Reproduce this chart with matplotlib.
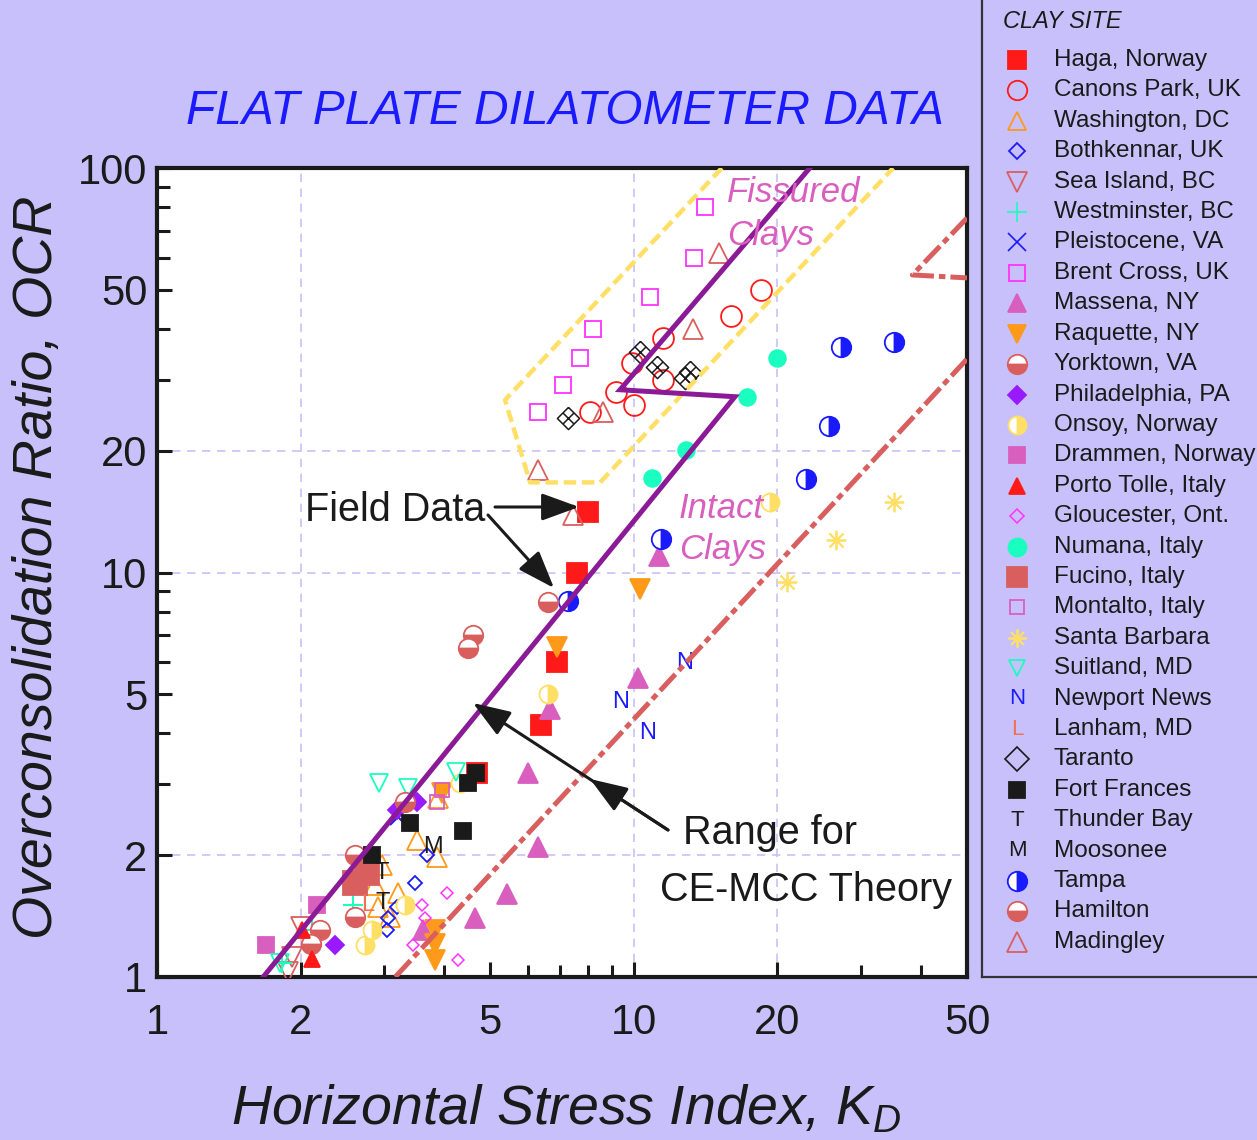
import matplotlib
matplotlib.use('Agg')
import matplotlib.pyplot as plt
from matplotlib.path import Path
from matplotlib.ticker import FixedLocator, NullFormatter

plt.rcParams['font.family'] = 'Liberation Sans'
plt.rcParams['mathtext.fontset'] = 'custom'
plt.rcParams['mathtext.rm'] = 'Liberation Sans'
plt.rcParams['mathtext.it'] = 'Liberation Sans:italic'

# ---- field data: horizontal stress index KD vs OCR ----
haga_kd = [8.0, 7.6, 6.9, 6.4, 4.7]
haga_ocr = [14.1, 10.0, 6.0, 4.2, 3.2]
canons_kd = [18.5, 16.0, 11.5, 9.9, 11.5, 9.2, 10.0, 8.1]
canons_ocr = [50, 43, 38, 33, 30, 28, 26, 25]
washington_kd = [3.51, 3.87, 2.96, 2.87, 3.20, 2.91, 3.08, 3.89]
washington_ocr = [2.18, 1.98, 1.89, 1.69, 1.61, 1.49, 1.41, 2.77]
bothkennar_kd = [3.69, 3.48, 3.19, 3.05, 3.04, 4.36]
bothkennar_ocr = [2.0, 1.71, 1.49, 1.40, 1.31, 3.02]
sea_island_kd = [2.0, 1.92, 1.88]
sea_island_ocr = [1.33, 1.12, 1.03]
westminster_kd = [2.58, 2.11, 1.83]
westminster_ocr = [1.51, 1.31, 1.08]
pleistocene_kd = [3.20]
pleistocene_ocr = [2.49]
brent_kd = [14.1, 13.4, 10.8, 8.2, 7.7, 7.1, 6.3]
brent_ocr = [80, 60, 48, 40, 34, 29, 25]
massena_kd = [11.3, 10.2, 6.67, 6.0, 6.3, 5.42, 4.65, 3.61]
massena_ocr = [11.0, 5.49, 4.6, 3.19, 2.10, 1.60, 1.40, 1.31]
raquette_kd = [10.3, 6.9, 3.96, 3.83, 3.83, 3.83]
raquette_ocr = [9.1, 6.54, 2.85, 1.31, 1.21, 1.10]
yorktown_kd = [2.60, 2.60, 2.20, 2.10]
yorktown_ocr = [2.0, 1.41, 1.31, 1.21]
philadelphia_kd = [3.51, 3.19, 2.36]
philadelphia_ocr = [2.71, 2.59, 1.20]
onsoy_kd = [19.3, 6.6, 4.32, 3.31, 2.83, 2.73]
onsoy_ocr = [14.9, 5.0, 3.02, 1.51, 1.31, 1.20]
drammen_kd = [2.17, 1.69]
drammen_ocr = [1.51, 1.20]
porto_tolle_kd = [2.01, 2.11]
porto_tolle_ocr = [1.31, 1.11]
gloucester_kd = [4.06, 3.60, 3.65, 3.44, 4.28]
gloucester_ocr = [1.61, 1.51, 1.40, 1.20, 1.10]
numana_kd = [20.0, 17.3, 12.9, 10.9]
numana_ocr = [34.0, 27.2, 20.1, 17.1]
fucino_kd = [2.60, 2.76]
fucino_ocr = [1.71, 1.81]
montalto_kd = [3.96, 3.87]
montalto_ocr = [2.90, 2.71]
santa_barbara_kd = [35.2, 26.6, 21.0]
santa_barbara_ocr = [14.9, 12.0, 9.47]
suitland_kd = [2.92, 3.36, 4.24, 1.81]
suitland_ocr = [3.02, 2.93, 3.21, 1.08]
newport_kd = [12.8, 9.36, 10.7]
newport_ocr = [5.97, 4.79, 4.01]
lanham_kd = [2.77]
lanham_ocr = [1.51]
taranto_kd = [7.28, 10.3, 11.2, 12.8, 13.1]
taranto_ocr = [24.1, 35.1, 32.2, 30.3, 31.3]
fort_frances_kd = [4.67, 4.49, 3.39, 4.38, 2.83]
fort_frances_ocr = [3.19, 3.02, 2.40, 2.30, 2.0]
thunder_bay_kd = [2.96, 2.98]
thunder_bay_ocr = [1.81, 1.52]
moosonee_kd = [3.79]
moosonee_ocr = [2.10]
tampa_kd = [35.2, 27.2, 25.7, 23.0, 11.4, 7.28]
tampa_ocr = [37.1, 36.1, 23.0, 17.0, 12.1, 8.5]
hamilton_kd = [6.6, 4.6, 4.5, 3.31]
hamilton_ocr = [8.46, 7.0, 6.5, 2.71]
madingley_kd = [15.1, 13.3, 8.6, 6.3, 7.46]
madingley_ocr = [61.6, 40.0, 24.9, 17.9, 13.9]

# ---- CE-MCC theory range and fissured clay zone ----
upper_kd = [1.67, 16.3, 9.36, 23.4]
upper_ocr = [1.0, 27.2, 28.3, 100]
lower_kd = [3.16, 50]
lower_ocr = [1.0, 33.7]
lower_notch_kd = [50, 38.4, 50]
lower_notch_ocr = [75.2, 54.4, 53.5]
fissured_kd = [15.3, 5.37, 6.06, 8.5, 35.0]
fissured_ocr = [100, 26.7, 16.7, 16.7, 100]

x_ticks = [1, 2, 5, 10, 20, 50]
y_ticks = [1, 2, 5, 10, 20, 50, 100]

W, H = 1257, 1140
BG = '#c8c0fa'
INK = '#1a1a1a'
RED = '#ff1a1a'
ORANGE = '#ff991a'
BLUE = '#1a1aff'
SALMON = '#d95f5f'
AQUA = '#1affbf'
MAGENTA = '#ff33ff'
PINK = '#d95fbf'
VIOLET = '#9a1aff'
YELLOW = '#ffdf66'

# taranto: diamond split into four
tv = [(0, 1), (1, 0), (0, -1), (-1, 0), (0, 1),
      (-0.5, 0.5), (0.5, -0.5), (0.5, 0.5), (-0.5, -0.5)]
tc = [Path.MOVETO, Path.LINETO, Path.LINETO, Path.LINETO, Path.LINETO,
      Path.MOVETO, Path.LINETO, Path.MOVETO, Path.LINETO]
taranto_marker = Path(tv, tc)


def mk(marker, color, ms, filled=True, mew=1.3, **kw):
    d = dict(marker=marker, ms=ms, mec=color, mew=mew, ls='none')
    d['mfc'] = color if filled else 'none'
    d.update(kw)
    return d


def half(color, side, ms):
    return dict(marker='o', ms=ms, mec=color, mfc=color, mfcalt='white',
                fillstyle=side, mew=1.3, ls='none')


sites = [
    ('Haga, Norway', haga_kd, haga_ocr, mk('s', RED, 14), mk('s', RED, 13)),
    ('Canons Park, UK', canons_kd, canons_ocr, mk('o', RED, 15, False), mk('o', RED, 14, False)),
    ('Washington, DC', washington_kd, washington_ocr, mk('^', ORANGE, 14, False), mk('^', ORANGE, 13, False)),
    ('Bothkennar, UK', bothkennar_kd, bothkennar_ocr, mk('D', BLUE, 7, False), mk('D', BLUE, 8, False)),
    ('Sea Island, BC', sea_island_kd, sea_island_ocr, mk('v', SALMON, 15, False), mk('v', SALMON, 14, False)),
    ('Westminster, BC', westminster_kd, westminster_ocr, mk('+', AQUA, 14, mew=1.5), mk('+', AQUA, 14, mew=1.2)),
    ('Pleistocene, VA', pleistocene_kd, pleistocene_ocr, mk('x', BLUE, 12, mew=1.5), mk('x', BLUE, 13, mew=1.2)),
    ('Brent Cross, UK', brent_kd, brent_ocr, mk('s', MAGENTA, 12, False), mk('s', MAGENTA, 12, False)),
    ('Massena, NY', massena_kd, massena_ocr, mk('^', PINK, 14), mk('^', PINK, 13)),
    ('Raquette, NY', raquette_kd, raquette_ocr, mk('v', ORANGE, 14), mk('v', ORANGE, 13)),
    ('Yorktown, VA', yorktown_kd, yorktown_ocr, half(SALMON, 'bottom', 14), half(SALMON, 'bottom', 14)),
    ('Philadelphia, PA', philadelphia_kd, philadelphia_ocr, mk('D', VIOLET, 9), mk('D', VIOLET, 9)),
    ('Onsoy, Norway', onsoy_kd, onsoy_ocr, half(YELLOW, 'right', 13), half(YELLOW, 'right', 13)),
    ('Drammen, Norway', drammen_kd, drammen_ocr, mk('s', PINK, 11), mk('s', PINK, 11)),
    ('Porto Tolle, Italy', porto_tolle_kd, porto_tolle_ocr, mk('^', RED, 11), mk('^', RED, 11)),
    ('Gloucester, Ont.', gloucester_kd, gloucester_ocr, mk('D', MAGENTA, 6, False, mew=1.1), mk('D', MAGENTA, 7, False, mew=1.1)),
    ('Numana, Italy', numana_kd, numana_ocr, mk('o', AQUA, 12), mk('o', AQUA, 13)),
    ('Fucino, Italy', fucino_kd, fucino_ocr, mk('s', SALMON, 17), mk('s', SALMON, 15)),
    ('Montalto, Italy', montalto_kd, montalto_ocr, mk('s', PINK, 10, False), mk('s', PINK, 10, False)),
    ('Santa Barbara', santa_barbara_kd, santa_barbara_ocr, mk((8, 2, 0), YELLOW, 14, mew=1.3), mk((8, 2, 0), YELLOW, 13, mew=1.3)),
    ('Suitland, MD', suitland_kd, suitland_ocr, mk('v', AQUA, 13, False), mk('v', AQUA, 11, False)),
    ('Newport News', newport_kd, newport_ocr, ('N', BLUE), ('N', BLUE)),
    ('Lanham, MD', lanham_kd, lanham_ocr, ('L', '#f07050'), ('L', '#f07050')),
    ('Taranto', taranto_kd, taranto_ocr, mk(taranto_marker, INK, 16, False, mew=1.1), mk('D', INK, 12, False, mew=1.2)),
    ('Fort Frances', fort_frances_kd, fort_frances_ocr, mk('s', INK, 12), mk('s', INK, 11)),
    ('Thunder Bay', thunder_bay_kd, thunder_bay_ocr, ('T', INK), ('T', INK)),
    ('Moosonee', moosonee_kd, moosonee_ocr, ('M', INK), ('M', INK)),
    ('Tampa', tampa_kd, tampa_ocr, half(BLUE, 'right', 14), half(BLUE, 'right', 14)),
    ('Hamilton', hamilton_kd, hamilton_ocr, half(SALMON, 'bottom', 14), half(SALMON, 'bottom', 14)),
    ('Madingley', madingley_kd, madingley_ocr, mk('^', SALMON, 15, False), mk('^', SALMON, 15, False)),
]

fig = plt.figure(figsize=(W / 100, H / 100), dpi=100, facecolor=BG)
ax = fig.add_axes([157 / W, 163 / H, 810 / W, 809 / H], facecolor='white')
ax.set_xscale('log')
ax.set_yscale('log')
ax.set_xlim(1, 50)
ax.set_ylim(1, 100)

for v in [2, 10, 20]:
    ax.axvline(v, color=BG, lw=1.2, ls=(0, (5, 4)), zorder=0)
    ax.axhline(v, color=BG, lw=1.2, ls=(0, (5, 4)), zorder=0)

for name, kd, ocr, style, _ in sites:
    if isinstance(style, tuple):
        letter, col = style
        for x, y in zip(kd, ocr):
            ax.text(x, y, letter, color=col, fontsize=17, ha='center', va='center', zorder=3)
    else:
        ax.plot(kd, ocr, zorder=3, **style)

ax.plot(fissured_kd, fissured_ocr, color=YELLOW, lw=3.2, dashes=(2.8, 1.3), zorder=4)
ax.plot(lower_kd, lower_ocr, color=SALMON, lw=3.6, dashes=(4.5, 1, 1.3, 1), zorder=4)
ax.plot(lower_notch_kd, lower_notch_ocr, color=SALMON, lw=3.6, dashes=(4.5, 1, 1.3, 1), zorder=4)
ax.plot(upper_kd, upper_ocr, color='#8b1a96', lw=3.6, zorder=5, solid_joinstyle='miter')

ax.xaxis.set_major_locator(FixedLocator(x_ticks))
ax.xaxis.set_minor_locator(FixedLocator([3, 4, 6, 7, 8, 9, 30, 40]))
ax.yaxis.set_major_locator(FixedLocator(y_ticks))
ax.yaxis.set_minor_locator(FixedLocator([3, 4, 6, 7, 8, 9, 30, 40, 60, 70, 80, 90]))
ax.set_xticklabels([str(t) for t in x_ticks])
ax.set_yticklabels([str(t) for t in y_ticks])
ax.xaxis.set_minor_formatter(NullFormatter())
ax.yaxis.set_minor_formatter(NullFormatter())
ax.tick_params(which='both', direction='in', width=2.2, color=INK,
               labelsize=30, labelcolor=INK, top=False, right=False)
ax.tick_params(which='major', length=11)
ax.tick_params(which='minor', length=9)
ax.tick_params(axis='x', pad=19)
ax.tick_params(axis='y', pad=7)
for s in ax.spines.values():
    s.set_linewidth(3)
    s.set_color(INK)


def fp(px, py):
    return (px, H - py)


# annotations
fig.text(565 / W, 1 - 112 / H, 'FLAT PLATE DILATOMETER DATA', color=BLUE,
         fontsize=34.5, style='italic', ha='center', va='center')
fig.text(566 / W, 1 - 1110 / H, 'Horizontal Stress Index, $K_D$', color=INK,
         fontsize=40, style='italic', ha='center', va='center')
fig.text(38 / W, 1 - 567 / H, 'Overconsolidation Ratio, OCR', color=INK,
         fontsize=40, style='italic', ha='center', va='center', rotation=90)
fig.text(727 / W, 1 - 192 / H, 'Fissured', color=PINK, fontsize=25, style='italic', va='center')
fig.text(727 / W, 1 - 235 / H, 'Clays', color=PINK, fontsize=25, style='italic', va='center')
fig.text(679 / W, 1 - 508 / H, 'Intact', color=PINK, fontsize=25, style='italic', va='center')
fig.text(679 / W, 1 - 550 / H, 'Clays', color=PINK, fontsize=25, style='italic', va='center')
fig.text(305 / W, 1 - 510 / H, 'Field Data', color=INK, fontsize=28.5, va='center')
fig.text(683 / W, 1 - 833 / H, 'Range for', color=INK, fontsize=28.5, va='center')
fig.text(660 / W, 1 - 890 / H, 'CE-MCC Theory', color=INK, fontsize=28.5, va='center')

arrow = dict(arrowstyle='-|>,head_length=1.15,head_width=0.42', color=INK, lw=2.2,
             shrinkA=0, shrinkB=0, mutation_scale=20)
for start, tip in [((495, 507), (579, 507)), ((488, 515), (554, 588)),
                   ((668, 830), (473, 703)), ((668, 830), (590, 779))]:
    fig.add_artist(matplotlib.patches.FancyArrowPatch(
        posA=fp(*start), posB=fp(*tip), transform=None, **arrow))

# site key on the right
lax = fig.add_axes([982 / W, 163 / H, 275 / W, 977 / H], facecolor=BG)
lax.set_xlim(982, 1257)
lax.set_ylim(977, 0)
lax.set_xticks([])
lax.set_yticks([])
for side in ['top', 'right']:
    lax.spines[side].set_visible(False)
for side in ['left', 'bottom']:
    lax.spines[side].set_linewidth(1.6)
    lax.spines[side].set_color('#333333')
lax.text(1003, 22, 'CLAY SITE', fontsize=17, style='italic', color=INK, va='center')
for i, (name, kd, ocr, _, lstyle) in enumerate(sites):
    y = 60 + i * 30.41
    if isinstance(lstyle, tuple):
        lax.text(1017, y, lstyle[0], color=lstyle[1], fontsize=16, ha='center', va='center')
    else:
        lax.plot([1017], [y], **lstyle)
    lax.text(1054, y, name, fontsize=17.5, color=INK, va='center')

fig.savefig('out.png', dpi=100, facecolor=BG)
